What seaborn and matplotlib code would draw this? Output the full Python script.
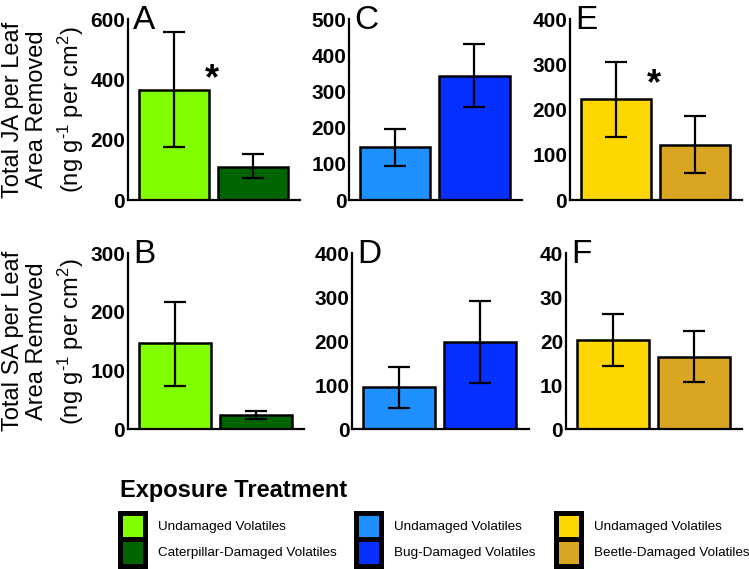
import matplotlib
matplotlib.use('Agg')
import matplotlib.pyplot as plt
from matplotlib.patches import Patch
import numpy as np
import pandas as pd
import seaborn as sns

# values (mean, lower and upper end of error bar)
treatments = ['Undamaged Volatiles', 'Damaged Volatiles']

ja_cater_mean = [364, 111]
ja_cater_lo = [175, 74]
ja_cater_hi = [556, 152]

ja_bug_mean = [146, 343]
ja_bug_lo = [93, 258]
ja_bug_hi = [197, 430]

ja_beetle_mean = [223, 122]
ja_beetle_lo = [139, 60]
ja_beetle_hi = [305, 186]

sa_cater_mean = [146, 24]
sa_cater_lo = [74, 17]
sa_cater_hi = [216, 31]

sa_bug_mean = [95, 198]
sa_bug_lo = [48, 105]
sa_bug_hi = [141, 291]

sa_beetle_mean = [20.2, 16.4]
sa_beetle_lo = [14.3, 10.7]
sa_beetle_hi = [26.1, 22.3]

green = ['#7FFF00', '#006400']
blue = ['#1E90FF', '#0530FF']
gold = ['#FFD700', '#DAA520']

legend_labels = [['Undamaged Volatiles', 'Caterpillar-Damaged Volatiles'],
                 ['Undamaged Volatiles', 'Bug-Damaged Volatiles'],
                 ['Undamaged Volatiles', 'Beetle-Damaged Volatiles']]

sns.set_style('ticks')
plt.rcParams['font.family'] = ['Liberation Sans', 'DejaVu Sans']
plt.rcParams['mathtext.default'] = 'regular'
for k in ['text.color', 'axes.labelcolor', 'xtick.color', 'ytick.color', 'axes.edgecolor']:
    plt.rcParams[k] = 'black'

fig = plt.figure(figsize=(7.49, 5.69), dpi=100)

# letter, mean, lo, hi, colors, ymax, ystep, asterisk y, axes rect
panels = [
    ('A', ja_cater_mean, ja_cater_lo, ja_cater_hi, green, 600, 200, 369, [0.1709, 0.6485, 0.2296, 0.318]),
    ('C', ja_bug_mean, ja_bug_lo, ja_bug_hi, blue, 500, 100, None, [0.466, 0.6485, 0.231, 0.318]),
    ('E', ja_beetle_mean, ja_beetle_lo, ja_beetle_hi, gold, 400, 100, 234, [0.761, 0.6485, 0.2296, 0.318]),
    ('B', sa_cater_mean, sa_cater_lo, sa_cater_hi, green, 300, 100, None, [0.1709, 0.246, 0.235, 0.309]),
    ('D', sa_bug_mean, sa_bug_lo, sa_bug_hi, blue, 400, 100, None, [0.470, 0.246, 0.236, 0.309]),
    ('F', sa_beetle_mean, sa_beetle_lo, sa_beetle_hi, gold, 40, 10, None, [0.7557, 0.246, 0.235, 0.309]),
]

for letter, mean, lo, hi, cols, ymax, ystep, star, rect in panels:
    ax = fig.add_axes(rect)
    df = pd.DataFrame({'treatment': treatments, 'value': mean})
    sns.barplot(data=df, x='treatment', y='value', hue='treatment', palette=cols,
                width=0.89, edgecolor='black', linewidth=1.8, saturation=1,
                legend=False, ax=ax)
    mean = np.array(mean)
    yerr = [mean - np.array(lo), np.array(hi) - mean]
    ax.errorbar([0, 1], mean, yerr=yerr, fmt='none', ecolor='black',
                elinewidth=1.6, capsize=8, capthick=1.6, zorder=5)
    ax.set_xlim(-0.58, 1.6)
    ax.set_ylim(0, ymax)
    ax.set_yticks(np.arange(0, ymax + 1, ystep))
    ax.set_xticks([])
    ax.set_xlabel('')
    ax.set_ylabel('')
    sns.despine(ax=ax)
    for s in ['left', 'bottom']:
        ax.spines[s].set_linewidth(1.6)
        ax.spines[s].set_color('black')
    ax.tick_params(axis='y', length=0, pad=2, labelsize=15)
    for lab in ax.get_yticklabels():
        lab.set_fontweight('bold')
    ax.text(0.03, 0.99, letter, transform=ax.transAxes, ha='left', va='center',
            fontsize=24)
    if star is not None:
        ax.text(0.49, star, '*', ha='center', va='baseline', fontsize=26,
                fontweight='bold')

units = '(ng g$^{\u20101}$ per cm$^{2}$)'
for name, yc in [('JA', 0.6485 + 0.159), ('SA', 0.246 + 0.1545)]:
    fig.text(25 / 749, yc, f'Total {name} per Leaf\nArea Removed',
             rotation=90, ha='center', va='center', multialignment='center',
             fontsize=17, linespacing=1.1)
    fig.text(70.5 / 749, yc, units, rotation=90, ha='center', va='center',
             fontsize=17)

fig.text(120 / 749, 1 - 497 / 569, 'Exposure Treatment', ha='left', va='baseline',
         fontsize=17, fontweight='bold')

anchors = [119.5 / 749, 355.5 / 749, 555.5 / 749]
for cols, labs, x0 in zip([green, blue, gold], legend_labels, anchors):
    handles = [Patch(facecolor=c, edgecolor='black', linewidth=3.6) for c in cols]
    fig.legend(handles=handles, labels=labs, loc='upper left',
               bbox_to_anchor=(x0, 1 - 512.5 / 569), frameon=False,
               fontsize=9.7, handlelength=1.86, handleheight=2.65,
               labelspacing=0, handletextpad=1.0, borderpad=0, borderaxespad=0)

fig.savefig('out.png', dpi=100)
